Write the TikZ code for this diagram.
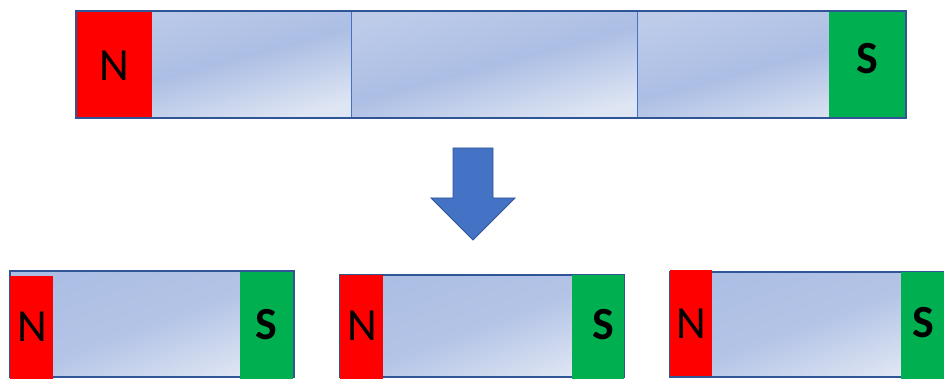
\documentclass[tikz,border=0pt]{standalone}
\usepackage{fontspec}
\setmainfont{Carlito}
\definecolor{redpole}{RGB}{255,0,0}
\definecolor{greenpole}{RGB}{0,176,80}
\definecolor{barblue}{RGB}{172,190,228}
\definecolor{barlight}{RGB}{222,229,243}
\definecolor{edgeblue}{RGB}{47,85,151}
\definecolor{lineblue}{RGB}{68,114,196}
\tikzset{
  body/.style={draw=edgeblue, line width=1.6pt, top color=barblue, bottom color=barlight, middle color=barblue!85!barlight, shading angle=20},
  seg/.style={draw=none, top color=barblue!80!white, bottom color=barlight, middle color=barblue, shading angle=15},
  northpole/.style={fill=redpole, draw=none},
  southpole/.style={fill=greenpole, draw=none},
  poletext/.style={font=\fontsize{46}{46}\selectfont, text=black, inner sep=0pt},
  divider/.style={draw=lineblue, line width=1pt},
}
\begin{document}
\begin{tikzpicture}[x=1pt,y=-1pt]
\useasboundingbox (0,0) rectangle (944,379);
% top bar
\path[seg] (76,11) rectangle (351,118);
\path[seg] (351,11) rectangle (637,118);
\path[seg] (637,11) rectangle (906,118);
\draw[divider] (351,11) -- (351,118);
\draw[divider] (637,11) -- (637,118);
\path[northpole] (76,11) rectangle (152,118);
\path[southpole] (829,11) rectangle (906,118);
\draw[edgeblue, line width=1.6pt] (76,11) rectangle (906,118);
\node[poletext] (tn) at (114,66) {N};
\node[poletext] (ts) at (867,59) {\bfseries S};
% arrow
\path[fill=lineblue, draw=edgeblue, line width=0.8pt]
  (453,148) -- (493,148) -- (493,198) -- (515,198) -- (473,240) -- (431,198) -- (453,198) -- cycle;
% magnet 1
\path[body] (10,271) rectangle (294,377);
\path[northpole] (10,276) rectangle (53,379);
\path[southpole] (240,272) rectangle (293,379);
\node[poletext] (n1) at (32,327) {N};
\node[poletext] (s1) at (266,325) {\bfseries S};
% magnet 2
\path[body] (340,275) rectangle (624,377);
\path[northpole] (340,275) rectangle (383,379);
\path[southpole] (572,275) rectangle (624,379);
\node[poletext] (n2) at (362,326) {N};
\node[poletext] (s2) at (603,325) {\bfseries S};
% magnet 3
\path[body] (670,272) rectangle (946,377);
\path[northpole] (670,270) rectangle (712,376);
\path[southpole] (901,272) rectangle (946,379);
\node[poletext] (n3) at (691,324) {N};
\node[poletext] (s3) at (923,323) {\bfseries S};
\end{tikzpicture}
\end{document}
